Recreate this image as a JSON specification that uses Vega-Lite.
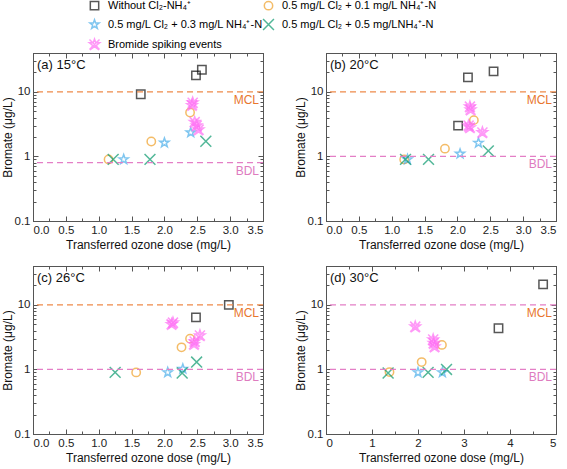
{
"$schema": "https://vega.github.io/schema/vega-lite/v6.json",
"padding": {"left": 0, "top": 0, "right": 6, "bottom": 2},
"config": {
 "font": "Liberation Sans",
 "view": {"stroke": "#555", "strokeWidth": 1},
 "axis": {"grid": false, "domainColor": "#555", "tickColor": "#555", "labelColor": "#222", "labelFont": "Liberation Sans", "labelFontSize": 11.5, "titleFont": "Liberation Sans", "titleFontSize": 12, "titleFontWeight": "normal", "titleColor": "#111", "labelPadding": 8},
 "title": {"font": "Liberation Sans", "fontSize": 13, "fontWeight": "normal", "color": "#111", "anchor": "start", "frame": "group"},
 "legend": {"labelFont": "Liberation Sans"}
},
"datasets": {
 "pts": [
  {"p":"a","s":"A","x":1.64,"y":9.2},{"p":"a","s":"A","x":2.48,"y":18},{"p":"a","s":"A","x":2.57,"y":22},
  {"p":"a","s":"B","x":1.15,"y":0.9},{"p":"a","s":"B","x":1.80,"y":1.7},{"p":"a","s":"B","x":2.39,"y":4.8},
  {"p":"a","s":"C","x":1.38,"y":0.9},{"p":"a","s":"C","x":2.00,"y":1.63},{"p":"a","s":"C","x":2.40,"y":2.35},
  {"p":"a","s":"D","x":1.22,"y":0.9},{"p":"a","s":"D","x":1.78,"y":0.9},{"p":"a","s":"D","x":2.63,"y":1.72},
  {"p":"a","s":"E","x":2.43,"y":6.8},{"p":"a","s":"E","x":2.42,"y":6.2},{"p":"a","s":"E","x":2.46,"y":3.4},{"p":"a","s":"E","x":2.49,"y":3.0},{"p":"a","s":"E","x":2.52,"y":2.6},
  {"p":"b","s":"A","x":2.01,"y":3.0},{"p":"b","s":"A","x":2.16,"y":16.8},{"p":"b","s":"A","x":2.55,"y":20.8},
  {"p":"b","s":"B","x":1.19,"y":0.9},{"p":"b","s":"B","x":1.81,"y":1.32},{"p":"b","s":"B","x":2.25,"y":3.65},
  {"p":"b","s":"C","x":1.24,"y":0.9},{"p":"b","s":"C","x":2.04,"y":1.1},{"p":"b","s":"C","x":2.32,"y":1.62},
  {"p":"b","s":"D","x":1.21,"y":0.9},{"p":"b","s":"D","x":1.56,"y":0.9},{"p":"b","s":"D","x":2.47,"y":1.22},
  {"p":"b","s":"E","x":2.19,"y":5.9},{"p":"b","s":"E","x":2.20,"y":5.3},{"p":"b","s":"E","x":2.17,"y":3.0},{"p":"b","s":"E","x":2.19,"y":2.8},{"p":"b","s":"E","x":2.38,"y":2.35},
  {"p":"c","s":"A","x":2.48,"y":6.4},{"p":"c","s":"A","x":2.98,"y":10},
  {"p":"c","s":"B","x":1.57,"y":0.9},{"p":"c","s":"B","x":2.26,"y":2.2},{"p":"c","s":"B","x":2.39,"y":3.0},
  {"p":"c","s":"C","x":2.05,"y":0.9},{"p":"c","s":"C","x":2.28,"y":1.02},
  {"p":"c","s":"D","x":1.25,"y":0.9},{"p":"c","s":"D","x":2.27,"y":0.88},{"p":"c","s":"D","x":2.49,"y":1.3},
  {"p":"c","s":"E","x":2.11,"y":5.0},{"p":"c","s":"E","x":2.13,"y":5.3},{"p":"c","s":"E","x":2.45,"y":2.45},{"p":"c","s":"E","x":2.46,"y":2.7},{"p":"c","s":"E","x":2.54,"y":3.35},
  {"p":"d","s":"A","x":3.75,"y":4.35},{"p":"d","s":"A","x":4.72,"y":20.8},
  {"p":"d","s":"B","x":1.38,"y":0.91},{"p":"d","s":"B","x":2.08,"y":1.3},{"p":"d","s":"B","x":2.52,"y":2.4},
  {"p":"d","s":"C","x":2.0,"y":0.9},{"p":"d","s":"C","x":2.53,"y":0.9},
  {"p":"d","s":"D","x":1.35,"y":0.88},{"p":"d","s":"D","x":2.22,"y":0.9},{"p":"d","s":"D","x":2.62,"y":1.0},
  {"p":"d","s":"E","x":1.94,"y":4.6},{"p":"d","s":"E","x":2.33,"y":2.9},{"p":"d","s":"E","x":2.34,"y":2.55},{"p":"d","s":"E","x":2.36,"y":2.25}
 ],
 "lines": [
  {"p":"a","k":"MCL","v":10},{"p":"a","k":"BDL","v":0.8},
  {"p":"b","k":"MCL","v":10},{"p":"b","k":"BDL","v":1},
  {"p":"c","k":"MCL","v":10},{"p":"c","k":"BDL","v":1},
  {"p":"d","k":"MCL","v":10},{"p":"d","k":"BDL","v":1}
 ]
},
"vconcat": [
 {"hconcat": [
  {"width": 230, "height": 168,
   "title": {"text": "(a) 15°C", "offset": -19, "dx": 4},
   "resolve": {"axis": {"x": "independent", "y": "independent"}},
   "layer": [
    {"data": {"name": "pts"}, "transform": [{"filter": "datum.p==='a'"}],
     "mark": {"type": "point", "filled": false, "size": 70, "strokeWidth": 1.5},
     "encoding": {
      "x": {"field": "x", "type": "quantitative", "scale": {"domain": [0, 3.5], "nice": false},
        "axis": {"orient": "bottom", "title": "Transferred ozone dose (mg/L)", "values": [0,0.25,0.5,0.75,1,1.25,1.5,1.75,2,2.25,2.5,2.75,3,3.25,3.5],
          "labelExpr": "abs(datum.value*2-round(datum.value*2))<0.001 ? format(datum.value,'.1f') : ''",
          "tickSize": {"condition": {"test": "abs(datum.value*2-round(datum.value*2))<0.001", "value": -5}, "value": -3}}},
      "y": {"field": "y", "type": "quantitative", "scale": {"type": "log", "domain": [0.1, 40], "nice": false},
        "axis": {"orient": "left", "title": "Bromate (μg/L)", "titlePadding": 0, "values": [0.1,0.2,0.3,0.4,0.5,0.6,0.7,0.8,0.9,1,2,3,4,5,6,7,8,9,10,20,30,40],
          "labelExpr": "abs(log(datum.value)/LN10-round(log(datum.value)/LN10))<0.001 ? format(datum.value,'~g') : ''",
          "tickSize": {"condition": {"test": "abs(log(datum.value)/LN10-round(log(datum.value)/LN10))<0.001", "value": -5}, "value": -3}}},
      "shape": {"field": "s", "type": "nominal", "scale": {"domain": ["A","C","E","B","D"], "range": ["square", "M0,-1.15L0.27,-0.372L1.094,-0.355L0.437,0.142L0.676,0.93L0,0.46L-0.676,0.93L-0.437,0.142L-1.094,-0.355L-0.27,-0.372Z", "M0,-1.3L0.306,-0.421L1.236,-0.402L0.494,0.161L0.764,1.052L0,0.52L-0.764,1.052L-0.494,0.161L-1.236,-0.402L-0.306,-0.421ZM-1.2,-1.2L1.2,1.2M-1.2,1.2L1.2,-1.2", "circle", "M-1.3,-1.3L1.3,1.3M-1.3,1.3L1.3,-1.3"]},
        "legend": {"orient": "none", "legendX": 56, "legendY": -53, "columns": 2, "columnPadding": -6, "rowPadding": 3, "title": null, "padding": 0, "labelFontSize": 11, "symbolSize": 70, "symbolStrokeWidth": 1.5, "labelLimit": 300, "labelOffset": 8,
          "labelExpr": "datum.value==='A' ? 'Without Cl₂-NH₄⁺' : datum.value==='B' ? '0.5 mg/L Cl₂ + 0.1 mg/L NH₄⁺-N' : datum.value==='C' ? '0.5 mg/L Cl₂ + 0.3 mg/L NH₄⁺-N' : datum.value==='D' ? '0.5 mg/L Cl₂ + 0.5 mg/LNH₄⁺-N' : 'Bromide spiking events'",
          "encode": {"labels": {"update": {"fill": {"signal": "datum.value==='A' ? '#111111' : datum.value==='B' ? '#F0A028' : datum.value==='C' ? '#4AAEEA' : datum.value==='D' ? '#0A9A6E' : '#FF77F5'"}}}}}},
      "color": {"field": "s", "type": "nominal", "scale": {"domain": ["A","C","E","B","D"], "range": ["#111111", "#4AAEEA", "#FF6EF5", "#F0A028", "#0A9A6E"]}},
      "fill": {"condition": {"test": "datum.s==='E'", "value": "#FFBDFA"}, "value": "transparent"}
     }},
    {"data": {"name": "pts"}, "transform": [{"filter": "datum.p==='a'"}],
     "mark": {"type": "point", "opacity": 0},
     "encoding": {
      "x": {"field": "x", "type": "quantitative", "axis": {"orient": "top", "title": null, "labels": false, "values": [0,0.25,0.5,0.75,1,1.25,1.5,1.75,2,2.25,2.5,2.75,3,3.25,3.5],
          "tickSize": {"condition": {"test": "abs(datum.value*2-round(datum.value*2))<0.001", "value": -5}, "value": -3}}},
      "y": {"field": "y", "type": "quantitative", "axis": {"orient": "right", "title": null, "labels": false, "values": [0.1,0.2,0.3,0.4,0.5,0.6,0.7,0.8,0.9,1,2,3,4,5,6,7,8,9,10,20,30,40],
          "tickSize": {"condition": {"test": "abs(log(datum.value)/LN10-round(log(datum.value)/LN10))<0.001", "value": -5}, "value": -3}}}
     }},
    {"data": {"name": "lines"}, "transform": [{"filter": "datum.p==='a'"}],
     "mark": {"type": "rule", "strokeDash": [6, 4], "strokeWidth": 1.3},
     "encoding": {"y": {"field": "v", "type": "quantitative", "axis": null},
      "color": {"condition": {"test": "datum.k==='MCL' && datum.p!=='d'", "value": "#EE8A4A"}, "value": "#E47FC6"}}},
    {"data": {"name": "lines"}, "transform": [{"filter": "datum.p==='a'"}],
     "mark": {"type": "text", "align": "right", "baseline": "top", "dx": -4, "dy": 3, "fontSize": 12},
     "encoding": {"x": {"datum": 3.5, "type": "quantitative", "axis": null}, "y": {"field": "v", "type": "quantitative", "axis": null}, "text": {"field": "k"},
      "color": {"condition": {"test": "datum.k==='MCL'", "value": "#E8772E"}, "value": "#DE7CBF"}}}
   ]},
  {"width": 230, "height": 168,
   "title": {"text": "(b) 20°C", "offset": -19, "dx": 4},
   "resolve": {"axis": {"x": "independent", "y": "independent"}},
   "layer": [
    {"data": {"name": "pts"}, "transform": [{"filter": "datum.p==='b'"}],
     "mark": {"type": "point", "filled": false, "size": 70, "strokeWidth": 1.5},
     "encoding": {
      "x": {"field": "x", "type": "quantitative", "scale": {"domain": [0, 3.5], "nice": false},
        "axis": {"orient": "bottom", "title": "Transferred ozone dose (mg/L)", "values": [0,0.25,0.5,0.75,1,1.25,1.5,1.75,2,2.25,2.5,2.75,3,3.25,3.5],
          "labelExpr": "abs(datum.value*2-round(datum.value*2))<0.001 ? format(datum.value,'.1f') : ''",
          "tickSize": {"condition": {"test": "abs(datum.value*2-round(datum.value*2))<0.001", "value": -5}, "value": -3}}},
      "y": {"field": "y", "type": "quantitative", "scale": {"type": "log", "domain": [0.1, 40], "nice": false},
        "axis": {"orient": "left", "title": "Bromate (μg/L)", "titlePadding": 0, "values": [0.1,0.2,0.3,0.4,0.5,0.6,0.7,0.8,0.9,1,2,3,4,5,6,7,8,9,10,20,30,40],
          "labelExpr": "abs(log(datum.value)/LN10-round(log(datum.value)/LN10))<0.001 ? format(datum.value,'~g') : ''",
          "tickSize": {"condition": {"test": "abs(log(datum.value)/LN10-round(log(datum.value)/LN10))<0.001", "value": -5}, "value": -3}}},
      "shape": {"field": "s", "type": "nominal"},
      "color": {"field": "s", "type": "nominal"},
      "fill": {"condition": {"test": "datum.s==='E'", "value": "#FFBDFA"}, "value": "transparent"}
     }},
    {"data": {"name": "pts"}, "transform": [{"filter": "datum.p==='b'"}],
     "mark": {"type": "point", "opacity": 0},
     "encoding": {
      "x": {"field": "x", "type": "quantitative", "axis": {"orient": "top", "title": null, "labels": false, "values": [0,0.25,0.5,0.75,1,1.25,1.5,1.75,2,2.25,2.5,2.75,3,3.25,3.5],
          "tickSize": {"condition": {"test": "abs(datum.value*2-round(datum.value*2))<0.001", "value": -5}, "value": -3}}},
      "y": {"field": "y", "type": "quantitative", "axis": {"orient": "right", "title": null, "labels": false, "values": [0.1,0.2,0.3,0.4,0.5,0.6,0.7,0.8,0.9,1,2,3,4,5,6,7,8,9,10,20,30,40],
          "tickSize": {"condition": {"test": "abs(log(datum.value)/LN10-round(log(datum.value)/LN10))<0.001", "value": -5}, "value": -3}}}
     }},
    {"data": {"name": "lines"}, "transform": [{"filter": "datum.p==='b'"}],
     "mark": {"type": "rule", "strokeDash": [6, 4], "strokeWidth": 1.3},
     "encoding": {"y": {"field": "v", "type": "quantitative", "axis": null},
      "color": {"condition": {"test": "datum.k==='MCL' && datum.p!=='d'", "value": "#EE8A4A"}, "value": "#E47FC6"}}},
    {"data": {"name": "lines"}, "transform": [{"filter": "datum.p==='b'"}],
     "mark": {"type": "text", "align": "right", "baseline": "top", "dx": -4, "dy": 3, "fontSize": 12},
     "encoding": {"x": {"datum": 3.5, "type": "quantitative", "axis": null}, "y": {"field": "v", "type": "quantitative", "axis": null}, "text": {"field": "k"},
      "color": {"condition": {"test": "datum.k==='MCL'", "value": "#E8772E"}, "value": "#DE7CBF"}}}
   ]}
 ], "spacing": 28},
 {"hconcat": [
  {"width": 230, "height": 168,
   "title": {"text": "(c) 26°C", "offset": -19, "dx": 4},
   "resolve": {"axis": {"x": "independent", "y": "independent"}},
   "layer": [
    {"data": {"name": "pts"}, "transform": [{"filter": "datum.p==='c'"}],
     "mark": {"type": "point", "filled": false, "size": 70, "strokeWidth": 1.5},
     "encoding": {
      "x": {"field": "x", "type": "quantitative", "scale": {"domain": [0, 3.5], "nice": false},
        "axis": {"orient": "bottom", "title": "Transferred ozone dose (mg/L)", "values": [0,0.25,0.5,0.75,1,1.25,1.5,1.75,2,2.25,2.5,2.75,3,3.25,3.5],
          "labelExpr": "abs(datum.value*2-round(datum.value*2))<0.001 ? format(datum.value,'.1f') : ''",
          "tickSize": {"condition": {"test": "abs(datum.value*2-round(datum.value*2))<0.001", "value": -5}, "value": -3}}},
      "y": {"field": "y", "type": "quantitative", "scale": {"type": "log", "domain": [0.1, 40], "nice": false},
        "axis": {"orient": "left", "title": "Bromate (μg/L)", "titlePadding": 0, "values": [0.1,0.2,0.3,0.4,0.5,0.6,0.7,0.8,0.9,1,2,3,4,5,6,7,8,9,10,20,30,40],
          "labelExpr": "abs(log(datum.value)/LN10-round(log(datum.value)/LN10))<0.001 ? format(datum.value,'~g') : ''",
          "tickSize": {"condition": {"test": "abs(log(datum.value)/LN10-round(log(datum.value)/LN10))<0.001", "value": -5}, "value": -3}}},
      "shape": {"field": "s", "type": "nominal"},
      "color": {"field": "s", "type": "nominal"},
      "fill": {"condition": {"test": "datum.s==='E'", "value": "#FFBDFA"}, "value": "transparent"}
     }},
    {"data": {"name": "pts"}, "transform": [{"filter": "datum.p==='c'"}],
     "mark": {"type": "point", "opacity": 0},
     "encoding": {
      "x": {"field": "x", "type": "quantitative", "axis": {"orient": "top", "title": null, "labels": false, "values": [0,0.25,0.5,0.75,1,1.25,1.5,1.75,2,2.25,2.5,2.75,3,3.25,3.5],
          "tickSize": {"condition": {"test": "abs(datum.value*2-round(datum.value*2))<0.001", "value": -5}, "value": -3}}},
      "y": {"field": "y", "type": "quantitative", "axis": {"orient": "right", "title": null, "labels": false, "values": [0.1,0.2,0.3,0.4,0.5,0.6,0.7,0.8,0.9,1,2,3,4,5,6,7,8,9,10,20,30,40],
          "tickSize": {"condition": {"test": "abs(log(datum.value)/LN10-round(log(datum.value)/LN10))<0.001", "value": -5}, "value": -3}}}
     }},
    {"data": {"name": "lines"}, "transform": [{"filter": "datum.p==='c'"}],
     "mark": {"type": "rule", "strokeDash": [6, 4], "strokeWidth": 1.3},
     "encoding": {"y": {"field": "v", "type": "quantitative", "axis": null},
      "color": {"condition": {"test": "datum.k==='MCL' && datum.p!=='d'", "value": "#EE8A4A"}, "value": "#E47FC6"}}},
    {"data": {"name": "lines"}, "transform": [{"filter": "datum.p==='c'"}],
     "mark": {"type": "text", "align": "right", "baseline": "top", "dx": -4, "dy": 3, "fontSize": 12},
     "encoding": {"x": {"datum": 3.5, "type": "quantitative", "axis": null}, "y": {"field": "v", "type": "quantitative", "axis": null}, "text": {"field": "k"},
      "color": {"condition": {"test": "datum.k==='MCL'", "value": "#E8772E"}, "value": "#DE7CBF"}}}
   ]},
  {"width": 230, "height": 168,
   "title": {"text": "(d) 30°C", "offset": -19, "dx": 4},
   "resolve": {"axis": {"x": "independent", "y": "independent"}},
   "layer": [
    {"data": {"name": "pts"}, "transform": [{"filter": "datum.p==='d'"}],
     "mark": {"type": "point", "filled": false, "size": 70, "strokeWidth": 1.5},
     "encoding": {
      "x": {"field": "x", "type": "quantitative", "scale": {"domain": [0, 5], "nice": false},
        "axis": {"orient": "bottom", "title": "Transferred ozone dose (mg/L)", "values": [0,0.5,1,1.5,2,2.5,3,3.5,4,4.5,5],
          "labelExpr": "abs(datum.value-round(datum.value))<0.001 ? format(datum.value,'d') : ''",
          "tickSize": {"condition": {"test": "abs(datum.value-round(datum.value))<0.001", "value": -5}, "value": -3}}},
      "y": {"field": "y", "type": "quantitative", "scale": {"type": "log", "domain": [0.1, 40], "nice": false},
        "axis": {"orient": "left", "title": "Bromate (μg/L)", "titlePadding": 0, "values": [0.1,0.2,0.3,0.4,0.5,0.6,0.7,0.8,0.9,1,2,3,4,5,6,7,8,9,10,20,30,40],
          "labelExpr": "abs(log(datum.value)/LN10-round(log(datum.value)/LN10))<0.001 ? format(datum.value,'~g') : ''",
          "tickSize": {"condition": {"test": "abs(log(datum.value)/LN10-round(log(datum.value)/LN10))<0.001", "value": -5}, "value": -3}}},
      "shape": {"field": "s", "type": "nominal"},
      "color": {"field": "s", "type": "nominal"},
      "fill": {"condition": {"test": "datum.s==='E'", "value": "#FFBDFA"}, "value": "transparent"}
     }},
    {"data": {"name": "pts"}, "transform": [{"filter": "datum.p==='d'"}],
     "mark": {"type": "point", "opacity": 0},
     "encoding": {
      "x": {"field": "x", "type": "quantitative", "axis": {"orient": "top", "title": null, "labels": false, "values": [0,0.5,1,1.5,2,2.5,3,3.5,4,4.5,5],
          "tickSize": {"condition": {"test": "abs(datum.value-round(datum.value))<0.001", "value": -5}, "value": -3}}},
      "y": {"field": "y", "type": "quantitative", "axis": {"orient": "right", "title": null, "labels": false, "values": [0.1,0.2,0.3,0.4,0.5,0.6,0.7,0.8,0.9,1,2,3,4,5,6,7,8,9,10,20,30,40],
          "tickSize": {"condition": {"test": "abs(log(datum.value)/LN10-round(log(datum.value)/LN10))<0.001", "value": -5}, "value": -3}}}
     }},
    {"data": {"name": "lines"}, "transform": [{"filter": "datum.p==='d'"}],
     "mark": {"type": "rule", "strokeDash": [6, 4], "strokeWidth": 1.3},
     "encoding": {"y": {"field": "v", "type": "quantitative", "axis": null},
      "color": {"condition": {"test": "datum.k==='MCL' && datum.p!=='d'", "value": "#EE8A4A"}, "value": "#E47FC6"}}},
    {"data": {"name": "lines"}, "transform": [{"filter": "datum.p==='d'"}],
     "mark": {"type": "text", "align": "right", "baseline": "top", "dx": -4, "dy": 3, "fontSize": 12},
     "encoding": {"x": {"datum": 5, "type": "quantitative", "axis": null}, "y": {"field": "v", "type": "quantitative", "axis": null}, "text": {"field": "k"},
      "color": {"condition": {"test": "datum.k==='MCL'", "value": "#E8772E"}, "value": "#DE7CBF"}}}
   ]}
 ], "spacing": 28}
],
"spacing": 14
}
